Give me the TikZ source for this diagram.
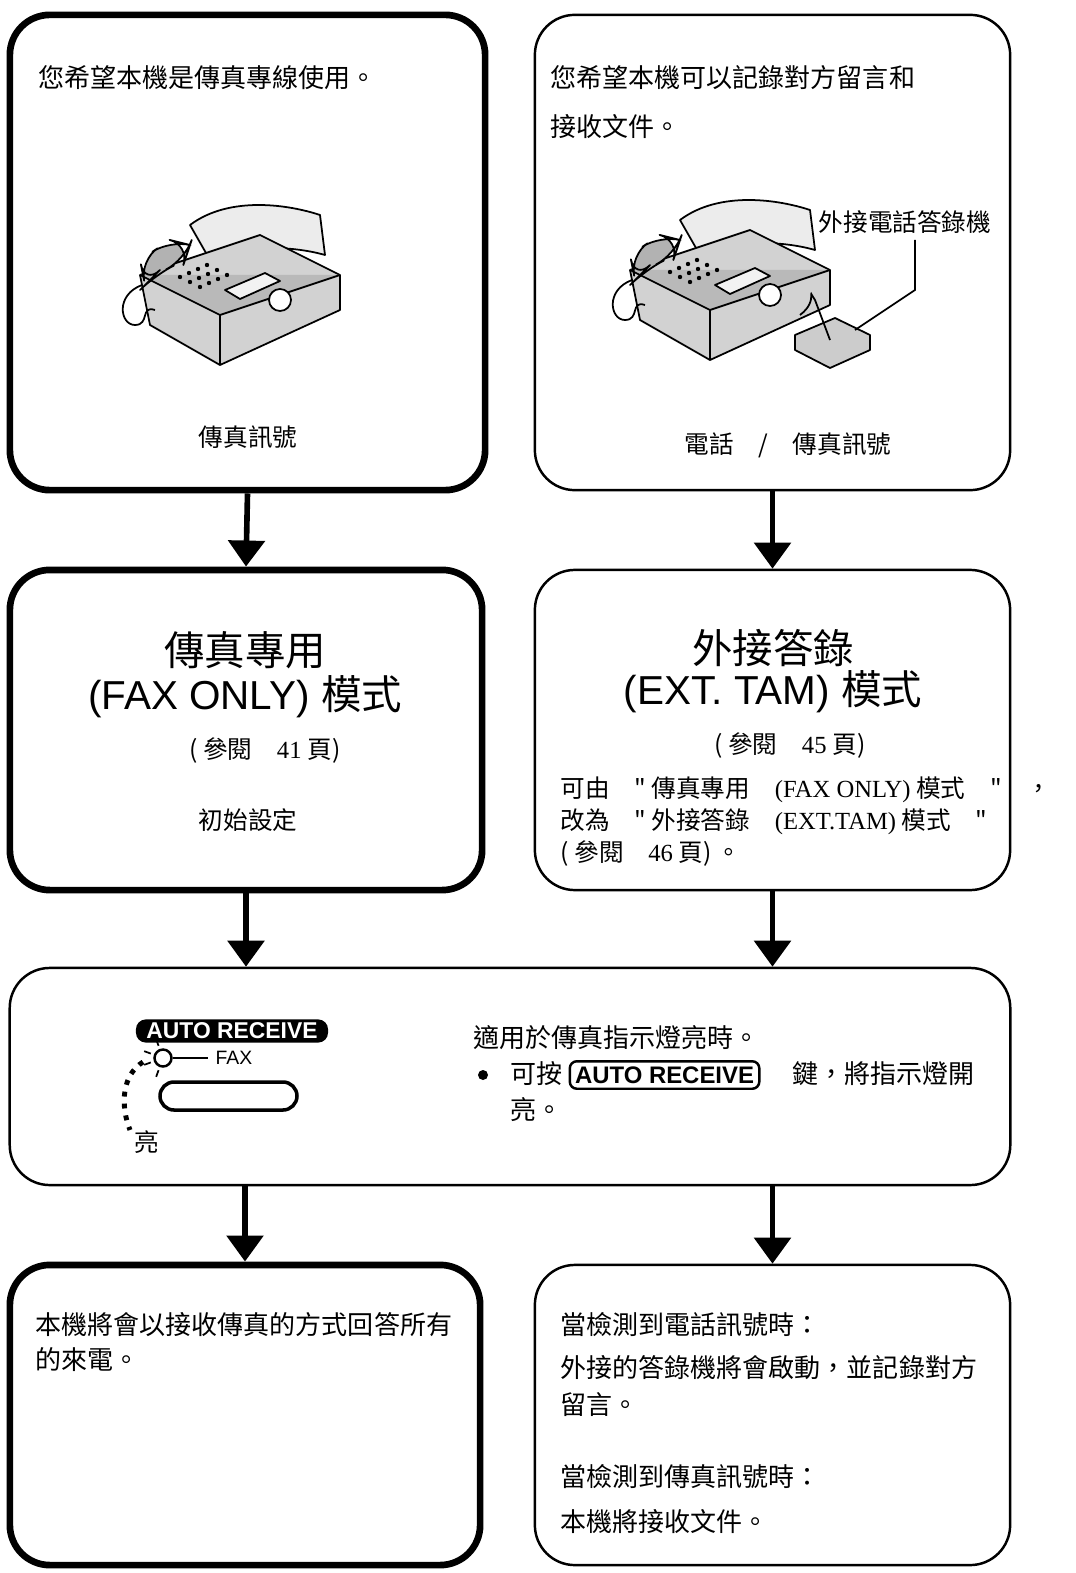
\documentclass[tikz,border=0pt]{standalone}
\usepackage{fontspec}
\setmainfont{Liberation Serif}
\setsansfont{Liberation Sans}
\newfontfamily\cjk{Noto Sans CJK TC}
\usetikzlibrary{positioning, calc, arrows.meta}

\tikzset{
  box/.style={draw, rounded corners=0.4cm, line width=0.7pt},
  heavybox/.style={box, line width=1.9pt},
  txt/.style={font=\cjk\fontsize{7.4}{9}\selectfont, anchor=west, inner sep=0pt},
  ctxt/.style={font=\cjk\fontsize{7}{9}\selectfont, inner sep=0pt},
  big/.style={font=\cjk\fontsize{11.5}{13}\selectfont, inner sep=0pt},
  bigarrow/.style={-{Triangle[length=0.26cm, width=0.36cm]}, line width=1.6pt},
  sketch/.style={draw, line width=0.5pt, fill=gray!35, line join=round}
}

% simple fax machine sketch
\newcommand{\faxsketch}{%
  \draw[sketch, fill=gray!15] (50,10) .. controls (90,-20) and (150,-10) .. (180,0) -- (185,40) .. controls (150,30) and (100,30) .. (70,45) -- cycle;
  \draw[sketch] (0,60) -- (120,20) -- (200,60) -- (200,95) -- (80,150) -- (10,110) -- cycle;
  \draw[sketch, fill=gray!55] (0,60) -- (80,100) -- (200,60);
  \draw[sketch, fill=gray!55] (80,100) -- (80,150);
  \draw[sketch, fill=gray!10] (85,75) -- (125,58) -- (140,66) -- (100,84) -- cycle;
  \draw[sketch, fill=white] (140,85) circle (11);
  \foreach \i in {0,...,3} \foreach \j in {0,1,2}
    \fill ($(40,62)+(\i*9,\i*-4)+(\j*10,\j*5)$) circle (2.2);
  \draw[sketch, fill=gray!60, rounded corners=6] (0,45) -- (30,25) -- (50,30) -- (45,45) -- (15,60) -- (5,70) -- cycle;
  \draw[line width=0.5pt] (2,70) .. controls (-25,80) and (-20,110) .. (-5,110) .. controls (10,110) and (0,90) .. (15,95);
}

\begin{document}
\begin{tikzpicture}[x=0.01cm, y=-0.01cm]
\useasboundingbox (0,0) rectangle (1076,1573);

% boxes
\node[heavybox, minimum width=4.75cm, minimum height=4.75cm] (want) at (247.5,252.5) {};
\node[box, minimum width=4.75cm, minimum height=4.75cm] (wanttam) at (772.5,252.5) {};
\node[heavybox, minimum width=4.72cm, minimum height=3.2cm] (faxonly) at (246,730) {};
\node[box, minimum width=4.75cm, minimum height=3.2cm] (exttam) at (772.5,730) {};
\node[box, minimum width=10cm, minimum height=2.17cm] (autorx) at (510,1076.5) {};
\node[heavybox, minimum width=4.7cm, minimum height=3cm] (faxans) at (245,1415) {};
\node[box, minimum width=4.75cm, minimum height=3cm] (tamans) at (772.5,1415) {};

% arrows
\draw[bigarrow] (want.south) -- (faxonly.north);
\draw[bigarrow] (wanttam.south) -- (exttam.north);
\draw[bigarrow] (faxonly.south) -- (faxonly.south |- autorx.north);
\draw[bigarrow] (exttam.south) -- (exttam.south |- autorx.north);
\draw[bigarrow] (autorx.south -| faxans.north) -- (faxans.north);
\draw[bigarrow] (autorx.south -| tamans.north) -- (tamans.north);

% top row
\node[txt] (w1) at (38,78) {您希望本機是傳真專線使用。};
\begin{scope}[shift={(140,215)}] \faxsketch \end{scope}
\node[ctxt] (sig1) at (248,437) {傳真訊號};

\node[txt] (w2) at (550,78) {您希望本機可以記錄對方留言和};
\node[txt] (w3) at (550,127) {接收文件。};
\begin{scope}[shift={(630,210)}] \faxsketch \end{scope}
\node[ctxt] (tamlbl) at (905,222) {外接電話答錄機};
\draw[sketch, fill=gray!40] (795,335) -- (835,318) -- (870,335) -- (870,350) -- (830,368) -- (795,350) -- cycle;
\draw[line width=0.5pt] (830,340) -- (815,300) .. controls (805,285) and (820,300) .. (800,315);
\draw[line width=0.5pt] (855,330) -- (915,290) -- (915,240);
\node[ctxt] (sig2) at (788,445) {電話\quad /\quad 傳真訊號};

% mode row
\node[big] (m1) at (245,650) {傳真專用};
\node[big] (m2) at (245,697) {\sffamily (FAX ONLY) \cjk 模式};
\node[ctxt] (m3) at (265,750) {( 參閱\quad \rmfamily 41 \cjk 頁)};
\node[ctxt] (m4) at (248,820) {初始設定};

\node[big] (e1) at (773,648) {外接答錄};
\node[big] (e2) at (773,692) {\sffamily (EXT. TAM) \cjk 模式};
\node[ctxt] (e3) at (790,745) {( 參閱\quad \rmfamily 45 \cjk 頁)};
\node[txt, font=\cjk\fontsize{7}{9}\selectfont] (e4) at (560,790) {可由\quad "\ 傳真專用\quad {\rmfamily (FAX ONLY)} 模式\quad "\quad ，};
\node[txt, font=\cjk\fontsize{7}{9}\selectfont] (e5) at (560,822) {改為\quad "\ 外接答錄\quad {\rmfamily (EXT.TAM)} 模式\quad "};
\node[txt, font=\cjk\fontsize{7}{9}\selectfont] (e6) at (560,853) {(\ 參閱\quad {\rmfamily 46} 頁)\ 。};

% auto receive panel
\node[fill=black, text=white, rounded corners=0.1cm, inner xsep=3pt, inner ysep=1pt, font=\sffamily\bfseries\fontsize{6.5}{7}\selectfont] (pill) at (232,1031) {AUTO RECEIVE};
\node[draw, circle, line width=0.7pt, minimum size=0.17cm, inner sep=0pt] (lamp) at (163,1058) {};
\draw[line width=0.5pt] (lamp.east) -- ++(35,0) node[right, inner sep=2pt, font=\sffamily\fontsize{5.5}{6}\selectfont] (faxlbl) {FAX};
\foreach \a in {110,160,200,250} \draw[line width=0.5pt] (lamp) ++(\a:13) -- ++(\a:7);
\draw[line width=1pt, rounded corners=0.14cm] (160,1082) rectangle (297,1110);
\draw[line width=1.4pt, dotted] (143,1062) .. controls (122,1075) and (120,1105) .. (130,1130);
\node[ctxt] (lit) at (147,1142) {亮};
\node[txt] (a1) at (473,1038) {適用於傳真指示燈亮時。};
\fill (483,1075) circle (5);
\node[txt] (a2) at (510,1075) {可按 \tikz[baseline=(k.base)]\node[draw, rounded corners=2pt, line width=0.7pt, inner sep=1.5pt, font=\sffamily\bfseries\fontsize{6.8}{7}\selectfont] (k) {AUTO RECEIVE}; \quad 鍵，將指示燈開};
\node[txt] (a3) at (510,1110) {亮。};

% answers
\node[txt] (f1) at (35,1325) {本機將會以接收傳真的方式回答所有};
\node[txt] (f2) at (35,1360) {的來電。};
\node[txt] (t1) at (560,1325) {當檢測到電話訊號時：};
\node[txt] (t2) at (560,1368) {外接的答錄機將會啟動，並記錄對方};
\node[txt] (t3) at (560,1405) {留言。};
\node[txt] (t4) at (560,1477) {當檢測到傳真訊號時：};
\node[txt] (t5) at (560,1522) {本機將接收文件。};
\end{tikzpicture}
\end{document}
